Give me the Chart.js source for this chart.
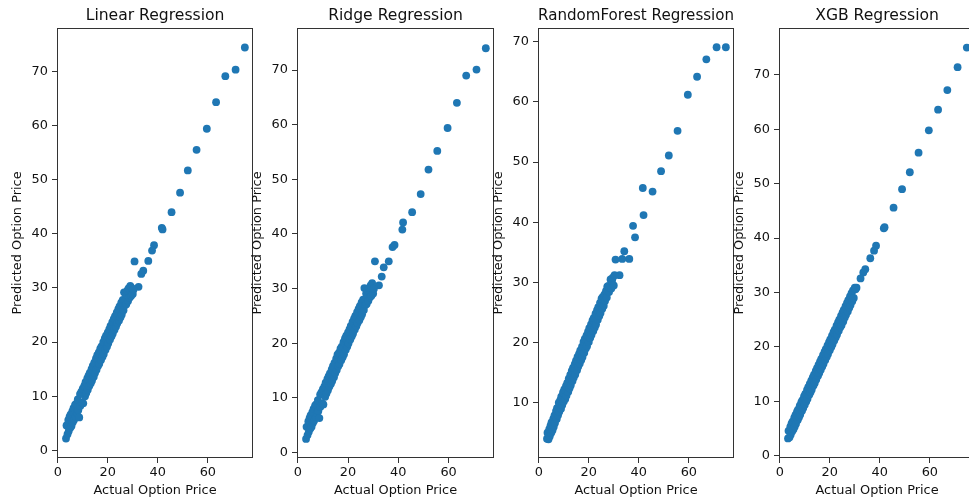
<!DOCTYPE html>
<html><head><meta charset="utf-8">
<script src="https://cdn.jsdelivr.net/npm/chart.js@4.4.1/dist/chart.umd.min.js"></script>
<style>
html,body{margin:0;padding:0;background:#fff;width:969px;height:502px;overflow:hidden;position:relative}
canvas{position:absolute;top:0}
</style></head><body>
<canvas id="c0"></canvas><canvas id="c1"></canvas><canvas id="c2"></canvas><canvas id="c3"></canvas>
<script>
// ---- data ----
const titles = ['Linear Regression', 'Ridge Regression', 'RandomForest Regression', 'XGB Regression'];
const xLabel = 'Actual Option Price';
const yLabel = 'Predicted Option Price';
const xTickStep = 20;
const yTickStep = 10;

// actual option prices (shared test set): sparse high values, then dense cluster
const actual = [
  74.8, 71.1, 67.0, 63.3, 59.6, 55.5, 52.0, 48.9, 45.5, 41.6, 41.9, 38.5, 37.7, 36.2, 34.2, 33.4, 32.3, 30.7,
  3.3, 3.5, 3.9, 4.2, 4.4, 4.7, 5.0, 5.1, 5.5, 5.8,
  6.0, 6.3, 6.5, 6.9, 7.2, 7.3, 7.7, 8.0, 8.2, 8.6,
  8.9, 9.0, 9.4, 9.7, 10.0, 10.2, 10.6, 10.9, 11.1, 11.4,
  11.8, 12.0, 12.3, 12.6, 12.8, 13.2, 13.5, 13.7, 14.0, 14.4,
  14.6, 14.9, 15.3, 15.5, 15.8, 16.1, 16.4, 16.6, 17.0, 17.3,
  17.5, 17.9, 18.2, 18.4, 18.8, 19.1, 19.3, 19.7, 20.0, 20.2,
  20.6, 20.9, 21.1, 21.5, 21.8, 22.0, 22.4, 22.7, 22.9, 23.3,
  23.6, 23.8, 24.2, 24.5, 24.7, 25.1, 25.4, 25.6, 26.0, 26.3,
  26.5, 26.9, 27.2, 27.4, 27.8, 28.1, 28.3, 28.7, 29.0, 29.3,
  29.6, 30.0, 30.3
];

const linearPred = [
  74.4, 70.3, 69.1, 64.3, 59.4, 55.5, 51.7, 47.6, 44.0, 41.1, 40.8, 37.9, 36.9, 35.0, 33.2, 32.6, 30.2, 34.9,
  2.2, 4.6, 3.0, 5.6, 3.6, 6.2, 4.2, 6.6, 4.5, 7.2,
  5.2, 7.8, 5.6, 8.4, 6.3, 8.6, 7.0, 9.4, 7.4, 6.1,
  10.4, 8.2, 10.8, 8.8, 11.4, 8.7, 11.9, 10.0, 12.6, 10.6,
  13.3, 11.2, 13.8, 11.9, 14.3, 12.4, 15.0, 12.9, 15.6, 13.6,
  16.2, 14.3, 17.0, 14.9, 17.6, 15.6, 18.1, 16.0, 18.8, 16.7,
  19.2, 17.3, 20.0, 17.8, 20.7, 18.6, 21.2, 19.2, 21.8, 19.8,
  22.4, 20.5, 23.0, 21.1, 23.7, 21.6, 24.3, 22.3, 24.8, 22.9,
  25.5, 23.5, 26.1, 24.0, 26.6, 24.6, 27.3, 25.1, 27.8, 25.9,
  29.2, 26.8, 28.9, 27.0, 29.5, 27.6, 29.9, 28.2, 30.4, 28.5,
  30.0, 28.9, 29.7
];

const ridgePred = [
  74.0, 70.1, 69.0, 64.0, 59.4, 55.2, 51.8, 47.3, 44.0, 40.8, 42.1, 38.0, 37.6, 35.0, 33.9, 32.2, 30.6, 35.0,
  2.5, 4.7, 3.2, 5.7, 3.8, 6.3, 4.4, 6.8, 4.7, 7.4,
  5.4, 8.0, 5.8, 8.6, 6.5, 8.8, 7.2, 9.6, 7.6, 6.3,
  10.6, 8.4, 11.0, 9.0, 11.6, 8.8, 12.1, 10.2, 12.8, 10.8,
  13.5, 11.4, 14.0, 12.1, 14.5, 12.6, 15.2, 13.1, 15.8, 13.8,
  16.4, 14.5, 17.2, 15.1, 17.9, 15.8, 18.3, 16.2, 19.0, 16.9,
  19.4, 17.5, 20.2, 18.0, 20.9, 18.8, 21.4, 19.4, 22.0, 20.0,
  22.6, 20.7, 23.2, 21.3, 23.9, 21.8, 24.5, 22.5, 25.0, 23.1,
  25.7, 23.7, 26.3, 24.2, 26.8, 24.8, 27.5, 25.3, 28.0, 26.1,
  30.1, 27.0, 29.1, 27.2, 29.7, 27.8, 30.1, 28.4, 30.6, 28.7,
  31.0, 29.1, 30.0
];

const forestPred = [
  69.1, 69.1, 67.1, 64.2, 61.2, 55.2, 51.1, 48.5, 45.1, 45.7, 41.2, 37.5, 39.4, 33.9, 35.2, 33.9, 31.2, 33.8,
  4.0, 5.0, 3.9, 5.6, 4.4, 6.2, 5.0, 6.7, 5.4, 7.3,
  6.0, 7.9, 6.6, 8.6, 7.3, 9.1, 7.9, 10.0, 8.5, 10.4,
  9.0, 11.0, 9.6, 11.7, 10.2, 12.2, 10.6, 12.8, 11.2, 13.3,
  11.8, 14.0, 12.4, 14.6, 12.9, 15.3, 13.6, 15.8, 14.2, 16.4,
  14.7, 17.0, 15.4, 17.6, 16.0, 18.1, 16.5, 18.7, 17.1, 19.3,
  17.6, 20.1, 18.3, 20.6, 19.0, 21.2, 19.4, 21.8, 20.1, 22.4,
  20.8, 23.0, 21.3, 23.7, 21.9, 24.1, 22.5, 24.8, 23.0, 25.4,
  23.8, 25.9, 24.4, 26.6, 24.9, 27.3, 25.6, 27.6, 26.1, 28.0,
  26.9, 28.6, 27.5, 29.3, 29.4, 28.4, 29.1, 30.5, 29.0, 30.3,
  30.8, 29.5, 31.2
];

const xgbPred = [
  75.0, 71.4, 67.2, 63.6, 59.8, 55.7, 52.1, 49.0, 45.6, 41.8, 42.0, 38.6, 37.7, 36.3, 34.3, 33.7, 32.6, 30.9,
  3.2, 4.6, 3.4, 5.3, 3.9, 5.9, 4.5, 6.3, 4.9, 7.0,
  5.4, 7.5, 5.9, 8.1, 6.6, 8.5, 7.1, 9.2, 7.6, 9.8,
  8.3, 10.2, 8.8, 10.9, 9.4, 11.4, 10.0, 12.1, 10.5, 12.6,
  11.2, 13.2, 11.7, 13.8, 12.2, 14.4, 12.9, 14.9, 13.4, 15.6,
  14.0, 16.1, 14.7, 16.7, 15.2, 17.3, 15.8, 17.8, 16.4, 18.5,
  16.9, 19.1, 17.6, 19.6, 18.2, 20.3, 18.7, 20.9, 19.4, 21.4,
  20.0, 22.1, 20.5, 22.7, 21.2, 23.2, 21.8, 23.9, 22.3, 24.5,
  23.0, 25.0, 23.6, 25.7, 24.0, 26.3, 24.7, 26.8, 25.4, 27.5,
  25.9, 28.1, 26.5, 28.6, 27.2, 29.3, 27.7, 29.9, 28.4, 30.4,
  29.0, 30.9, 30.6
];

const predictions = [linearPred, ridgePred, forestPred, xgbPred];
const xRange = [-0.3, 78.1];
const yRanges = [[-1.4, 78.0], [-1.0, 77.7], [0.8, 72.3], [-0.4, 78.6]];

// ---- layout / style ----
const FONT = "'DejaVu Sans', sans-serif";
const TXT = '#111111';
const AXC = '#333333';
const boxLefts = [57, 297, 538, 779];
const boxWidths = [200, 201, 200, 200];
const YW = 57;

const boxPlugin = {
  id: 'spines',
  afterDraw(chart) {
    const {ctx, chartArea: a} = chart;
    ctx.save();
    ctx.strokeStyle = AXC;
    ctx.lineWidth = 1;
    ctx.strokeRect(Math.round(a.left) + 0.5, Math.round(a.top) + 0.5,
                   Math.round(a.right - a.left) - 1, Math.round(a.bottom - a.top) - 1);
    ctx.restore();
  }
};

for (let i = 0; i < 4; i++) {
  const cv = document.getElementById('c' + i);
  cv.width = YW + boxWidths[i];
  cv.height = 502;
  cv.style.left = (boxLefts[i] - YW) + 'px';
  const pts = actual.map((a, k) => ({x: a, y: predictions[i][k]}));
  new Chart(cv, {
    type: 'scatter',
    data: {datasets: [{data: pts, backgroundColor: '#1f77b4', borderColor: '#1f77b4',
      borderWidth: 0, pointRadius: 3.9, pointHoverRadius: 3.9}]},
    options: {
      responsive: false, animation: false, devicePixelRatio: 1,
      layout: {padding: 0},
      events: [],
      plugins: {
        legend: {display: false}, tooltip: {enabled: false},
        title: {display: true, text: titles[i], fullSize: false, color: TXT,
          font: {family: FONT, size: 15.6, weight: 'normal'}, padding: {top: 6.6, bottom: 2.7}}
      },
      scales: {
        x: {
          type: 'linear', position: 'bottom', min: xRange[0], max: xRange[1],
          afterFit(s) { s.height = 44; },
          ticks: {stepSize: xTickStep, includeBounds: false, color: TXT, maxRotation: 0,
            font: {family: FONT, size: 12.9}, padding: 2},
          grid: {display: true, drawOnChartArea: false, drawTicks: true, tickLength: 5, color: AXC},
          border: {display: false},
          title: {display: true, text: xLabel, color: TXT, font: {family: FONT, size: 12.9},
            padding: {top: 0, bottom: 3.3}}
        },
        y: {
          type: 'linear', position: 'left', min: yRanges[i][0], max: yRanges[i][1],
          afterFit(s) { s.width = YW; },
          ticks: {stepSize: yTickStep, includeBounds: false, color: TXT,
            font: {family: FONT, size: 12.9}, padding: 4},
          grid: {display: true, drawOnChartArea: false, drawTicks: true, tickLength: 5, color: AXC},
          border: {display: false},
          title: {display: true, text: yLabel, color: TXT, font: {family: FONT, size: 12.9},
            padding: {top: 10.3, bottom: 0}}
        }
      }
    },
    plugins: [boxPlugin]
  });
}
</script>
</body></html>
